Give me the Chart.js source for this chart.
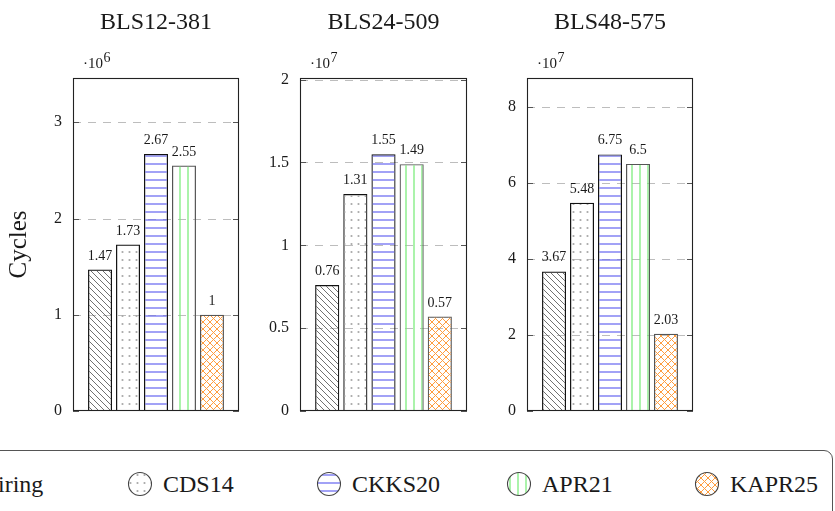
<!DOCTYPE html>
<html>
<head>
<meta charset="utf-8">
<script src="https://cdn.jsdelivr.net/npm/chart.js@4.4.1/dist/chart.umd.min.js"></script>
<style>
  body { margin: 0; width: 835px; height: 511px; overflow: hidden; position: relative; background: #fff;
         font-family: "Liberation Serif", "DejaVu Serif", serif; color: #1a1a1a; }
  canvas.panel { position: absolute; top: 0; }
  #legendBox { position: absolute; left: -30px; top: 450px; width: 863px; height: 80px;
               border: 1.3px solid #555; border-radius: 9px; box-sizing: border-box; }
  .item { position: absolute; top: 472px; height: 24px; display: flex; align-items: center; }
  .item canvas { width: 26px; height: 26px; }
  .item span { margin-left: 10px; font-family: "Liberation Serif", serif; font-size: 24px; line-height: 24px; white-space: nowrap; }
</style>
</head>
<body>
<canvas id="c0" class="panel"></canvas>
<canvas id="c1" class="panel"></canvas>
<canvas id="c2" class="panel"></canvas>
<div id="legendBox"></div>

<script>
// Schemes compared, and the curves they run on
const schemes = ["Pairing", "CDS14", "CKKS20", "APR21", "KAPR25"];
const curves = ["BLS12-381", "BLS24-509", "BLS48-575"];
const exponents = [6, 7, 7];

// Cycle counts, in units of 10^exponent
const bls12Cycles = [1.47, 1.73, 2.67, 2.55, 1];
const bls24Cycles = [0.76, 1.31, 1.55, 1.49, 0.57];
const bls48Cycles = [3.67, 5.48, 6.75, 6.5, 2.03];
const cycles = [bls12Cycles, bls24Cycles, bls48Cycles];

// y axis ranges and tick steps
const yMax = [3.46, 2.01, 8.76];
const yStep = [1, 0.5, 2];

// canvas spans and plot box edges (page px)
const panelBox = [
  { left: 0,   width: 250, plotL: 73,  plotR: 239 },
  { left: 250, width: 250, plotL: 300, plotR: 467 },
  { left: 500, width: 335, plotL: 527, plotR: 693 }
];
const plotTop = 78, plotBottom = 411, canvasH = 440;
const serif = '"Liberation Serif", "DejaVu Serif", serif';
const ink = '#1a1a1a';

// fill patterns (transparent background, like pgfplots patterns)
function makePattern(w, h, draw) {
  const tile = document.createElement('canvas');
  tile.width = w; tile.height = h;
  draw(tile.getContext('2d'), w, h);
  return tile.getContext('2d').createPattern(tile, 'repeat');
}
function diagonal(g, n, color, width, both) {
  g.strokeStyle = color; g.lineWidth = width;
  g.beginPath();
  for (let o = -n; o <= n; o += n) {
    g.moveTo(o - 1, -1); g.lineTo(o + n + 1, n + 1);
    if (both) { g.moveTo(o - 1, n + 1); g.lineTo(o + n + 1, -1); }
  }
  g.stroke();
}
const fills = [
  makePattern(6, 6, g => diagonal(g, 6, '#333', 0.7, false)),
  makePattern(7, 8, g => { g.fillStyle = '#a8a8a8'; g.beginPath(); g.arc(3.5, 4, 1.1, 0, 7); g.fill(); }),
  makePattern(8, 8, g => { g.fillStyle = '#6565f0'; g.fillRect(0, 3.4, 8, 1.2); }),
  makePattern(8, 8, g => { g.fillStyle = '#74ec74'; g.fillRect(3.4, 0, 1.2, 8); }),
  makePattern(7, 7, g => diagonal(g, 7, '#ff9d3f', 1, true))
];
const edges = ['#111', '#111', '#111', '#555', '#555'];

// frame, dashed grid, inner ticks, value labels, exponent and title
const panelDecor = {
  id: 'panelDecor',
  beforeDatasetsDraw(chart, args, opts) {
    const { ctx, chartArea: a, scales: { y } } = chart;
    ctx.save();
    ctx.strokeStyle = '#bdbdbd'; ctx.lineWidth = 1; ctx.setLineDash([8, 7]);
    y.ticks.forEach(t => {
      if (t.value === 0) return;
      const py = Math.round(y.getPixelForValue(t.value)) + 0.5;
      ctx.beginPath(); ctx.moveTo(a.left, py); ctx.lineTo(a.right, py); ctx.stroke();
    });
    ctx.restore();
  },
  afterDatasetsDraw(chart, args, opts) {
    const { ctx, chartArea: a, scales: { y } } = chart;
    ctx.save();
    // inner tick marks on both sides
    ctx.strokeStyle = '#555'; ctx.lineWidth = 1;
    y.ticks.forEach(t => {
      const py = Math.round(y.getPixelForValue(t.value)) + 0.5;
      ctx.beginPath();
      ctx.moveTo(a.left, py); ctx.lineTo(a.left + 6, py);
      ctx.moveTo(a.right - 6, py); ctx.lineTo(a.right, py);
      ctx.stroke();
    });
    // plot frame
    ctx.strokeStyle = '#222'; ctx.lineWidth = 1.1;
    ctx.strokeRect(a.left + 0.5, a.top + 0.5, a.right - a.left - 1, a.bottom - a.top - 1);
    // values above bars
    ctx.fillStyle = ink; ctx.textAlign = 'center'; ctx.textBaseline = 'alphabetic';
    ctx.font = '14px ' + serif;
    chart.data.datasets.forEach((ds, k) => {
      const bar = chart.getDatasetMeta(k).data[0];
      ctx.fillText(String(ds.data[0]), bar.x, bar.y - 10);
    });
    // axis multiplier
    ctx.textAlign = 'left';
    ctx.font = '15px ' + serif;
    const base = '\u00b710';
    ctx.fillText(base, a.left + 10, 68);
    const w = ctx.measureText(base).width;
    ctx.font = '14px ' + serif;
    ctx.fillText(String(opts.exponent), a.left + 10 + w + 0.5, 62);
    // panel title
    ctx.textAlign = 'center';
    ctx.font = '24px ' + serif;
    ctx.fillText(opts.title, (a.left + a.right) / 2, 29);
    ctx.restore();
  }
};

curves.forEach((curve, i) => {
  const box = panelBox[i];
  const canvas = document.getElementById('c' + i);
  canvas.width = box.width; canvas.height = canvasH;
  canvas.style.left = box.left + 'px';
  const axisW = box.plotL - box.left;

  new Chart(canvas, {
    type: 'bar',
    data: {
      labels: [curve],
      datasets: schemes.map((name, k) => ({
        label: name,
        data: [cycles[i][k]],
        backgroundColor: fills[k],
        borderColor: edges[k],
        borderWidth: 1.2,
        categoryPercentage: 0.843,
        barPercentage: 0.857
      }))
    },
    options: {
      responsive: false,
      animation: false,
      devicePixelRatio: 1,
      layout: { padding: { left: 0, top: plotTop, right: box.left + box.width - box.plotR, bottom: canvasH - plotBottom } },
      plugins: {
        legend: { display: false },
        tooltip: { enabled: false },
        panelDecor: { title: curve, exponent: exponents[i] }
      },
      scales: {
        x: { display: false },
        y: {
          min: 0,
          max: yMax[i],
          ticks: { stepSize: yStep[i], includeBounds: false, padding: 11, color: ink,
                   font: { family: serif, size: 16 },
                   callback: v => String(Math.round(v * 100) / 100) },
          grid: { display: false, drawTicks: false },
          border: { display: false },
          title: {
            display: i === 0,
            text: 'Cycles',
            color: ink,
            font: { family: serif, size: 25 },
            padding: { top: 4, bottom: 0 }
          },
          afterFit(scale) { scale.width = axisW; }
        }
      }
    },
    plugins: [panelDecor]
  });
});

// legend row along the bottom
const legendX = [-62, 127, 316, 506, 694];
schemes.forEach((name, k) => {
  const item = document.createElement('div');
  item.className = 'item';
  item.style.left = legendX[k] + 'px';
  const sw = document.createElement('canvas');
  sw.width = 26; sw.height = 26;
  const g = sw.getContext('2d');
  g.beginPath(); g.arc(13, 13, 11.5, 0, Math.PI * 2);
  g.fillStyle = fills[k]; g.fill();
  g.strokeStyle = '#444'; g.lineWidth = 1.1; g.stroke();
  const label = document.createElement('span');
  label.textContent = name;
  item.appendChild(sw); item.appendChild(label);
  document.body.appendChild(item);
});
</script>
</body>
</html>
